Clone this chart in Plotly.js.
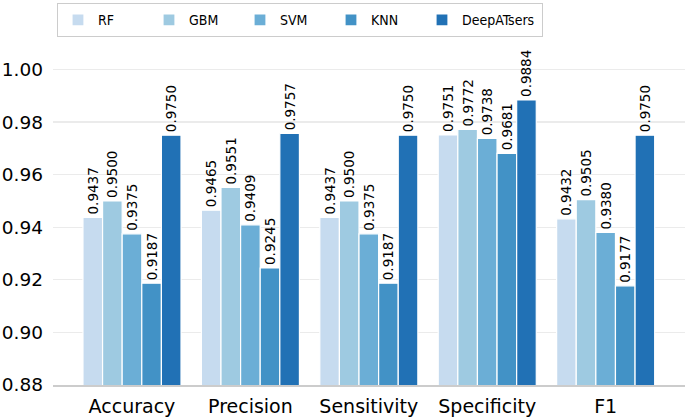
<!DOCTYPE html>
<html>
<head>
<meta charset="utf-8">
<script src="https://cdn.plot.ly/plotly-3.0.1.min.js"></script>
<style>html,body{margin:0;padding:0;background:#fff;}#chart{width:685px;height:419px;}</style>
</head>
<body>
<div id="chart"></div>
<script>
const categories = ["Accuracy", "Precision", "Sensitivity", "Specificity", "F1"];
const models = ["RF", "GBM", "SVM", "KNN", "DeepATsers"];
const rfValues = [0.9437, 0.9465, 0.9437, 0.9751, 0.9432];
const gbmValues = [0.9500, 0.9551, 0.9500, 0.9772, 0.9505];
const svmValues = [0.9375, 0.9409, 0.9375, 0.9738, 0.9380];
const knnValues = [0.9187, 0.9245, 0.9187, 0.9681, 0.9177];
const deepValues = [0.9750, 0.9757, 0.9750, 0.9884, 0.9750];
const yTicks = [0.88, 0.90, 0.92, 0.94, 0.96, 0.98, 1.00];

const seriesValues = [rfValues, gbmValues, svmValues, knnValues, deepValues];
const colors = ["#c6dbef", "#9ecae1", "#6baed6", "#4292c6", "#2171b5"];
const legendWidths = [46, 46, 46, 46, 74];
const font = "DejaVu Sans, Arial, sans-serif";
const legendFont = "DejaVu Sans Condensed, DejaVu Sans, Arial, sans-serif";

const traces = models.map((m, i) => ({
  type: "bar",
  name: m,
  x: categories,
  y: seriesValues[i],
  legendwidth: legendWidths[i],
  marker: {color: colors[i], line: {color: "#ffffff", width: 1.2}},
  texttemplate: "%{y:.4f}",
  textposition: "outside",
  textangle: -90,
  constraintext: "none",
  cliponaxis: false,
  textfont: {family: font, size: 13.5, color: "#000000"},
  hoverinfo: "x+y+name"
}));

const layout = {
  width: 685,
  height: 419,
  margin: {l: 53, r: 0, t: 40, b: 34},
  paper_bgcolor: "#ffffff",
  plot_bgcolor: "#ffffff",
  barmode: "group",
  bargap: 0.172,
  bargroupgap: 0,
  font: {family: font, color: "#000000"},
  showlegend: true,
  legend: {
    orientation: "h",
    x: 0.006, xanchor: "left",
    y: 1.107, yanchor: "top",
    bordercolor: "#cccccc",
    borderwidth: 1.2,
    bgcolor: "#ffffff",
    font: {family: legendFont, size: 14, color: "#000000"},
    traceorder: "normal"
  },
  xaxis: {
    type: "category",
    range: [-0.667, 4.67],
    showgrid: false,
    zeroline: false,
    showline: true,
    linecolor: "#cccccc",
    linewidth: 1.5,
    ticks: "",
    tickfont: {family: font, size: 19, color: "#000000"},
    ticklabelstandoff: 4,
    fixedrange: true
  },
  yaxis: {
    range: [0.88, 1.0112],
    tickvals: yTicks,
    ticktext: yTicks.map(v => v.toFixed(2)),
    showgrid: true,
    gridcolor: "#ebebeb",
    gridwidth: 1.2,
    zeroline: false,
    showline: false,
    ticks: "",
    tickfont: {family: font, size: 18.5, color: "#000000"},
    ticklabelstandoff: 9,
    fixedrange: true
  }
};

Plotly.newPlot("chart", traces, layout, {displayModeBar: false, staticPlot: true});
</script>
</body>
</html>
